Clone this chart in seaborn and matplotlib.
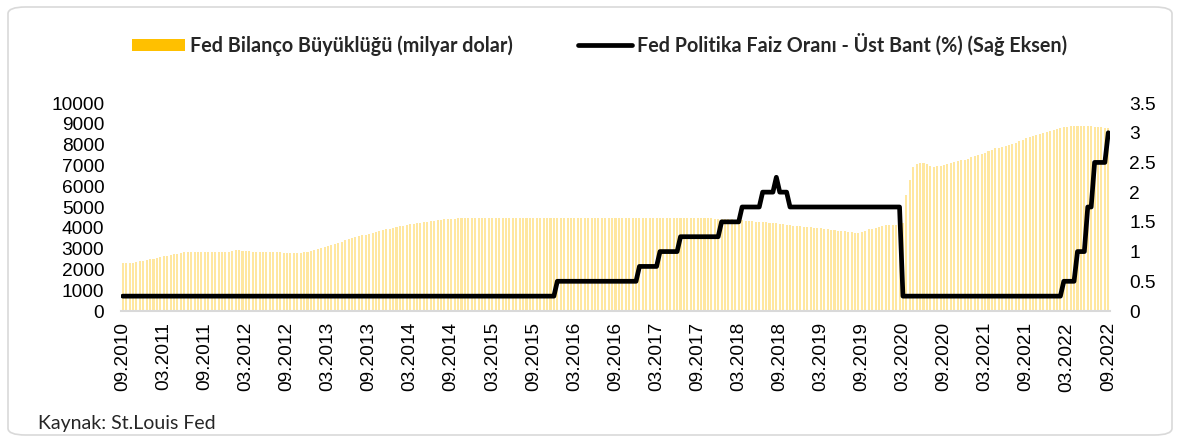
import numpy as np
import pandas as pd
import matplotlib
matplotlib.use("Agg")
import matplotlib.pyplot as plt
from matplotlib.patches import FancyBboxPatch, Patch
from matplotlib.lines import Line2D
import seaborn as sns

# Fed balance sheet, billion USD, two readings per month, 09.2010 .. 09.2022
bal_2010 = [2300, 2300, 2300, 2310, 2340, 2380, 2420, 2450]
bal_2011 = [2480, 2510, 2550, 2590, 2630, 2660, 2700, 2730, 2760, 2790, 2820, 2840,
            2850, 2860, 2860, 2860, 2860, 2850, 2850, 2850, 2850, 2840, 2840, 2860]
bal_2012 = [2900, 2920, 2910, 2900, 2880, 2870, 2860, 2860, 2850, 2850, 2850, 2840,
            2830, 2830, 2820, 2810, 2800, 2800, 2790, 2790, 2810, 2830, 2850, 2880]
bal_2013 = [2940, 2990, 3040, 3090, 3140, 3190, 3240, 3290, 3340, 3390, 3440, 3500,
            3550, 3590, 3630, 3670, 3710, 3750, 3800, 3840, 3880, 3920, 3960, 4000]
bal_2014 = [4040, 4070, 4100, 4130, 4160, 4190, 4220, 4250, 4270, 4300, 4320, 4340,
            4370, 4390, 4410, 4420, 4430, 4440, 4450, 4460, 4470, 4480, 4480, 4490]
bal_2015 = [4490, 4490, 4480, 4480, 4480, 4490, 4490, 4490, 4480, 4480, 4480, 4480,
            4480, 4490, 4490, 4480, 4480, 4480, 4480, 4480, 4480, 4480, 4480, 4490]
bal_2016 = [4490, 4490, 4490, 4480, 4480, 4480, 4480, 4480, 4480, 4480, 4470, 4470,
            4470, 4470, 4470, 4470, 4470, 4460, 4460, 4460, 4460, 4460, 4460, 4450]
bal_2017 = [4450, 4450, 4460, 4460, 4470, 4470, 4480, 4480, 4480, 4480, 4470, 4470,
            4470, 4470, 4460, 4460, 4460, 4460, 4460, 4450, 4450, 4440, 4440, 4430]
bal_2018 = [4420, 4410, 4400, 4390, 4380, 4370, 4350, 4330, 4320, 4300, 4290, 4270,
            4260, 4240, 4220, 4210, 4190, 4170, 4150, 4130, 4110, 4090, 4070, 4050]
bal_2019 = [4040, 4020, 4000, 3990, 3970, 3950, 3930, 3910, 3890, 3870, 3850, 3830,
            3810, 3790, 3770, 3760, 3780, 3860, 3920, 3960, 4000, 4040, 4100, 4140]
bal_2020 = [4150, 4150, 4150, 4160, 4250, 5600, 6300, 6900, 7050, 7130, 7130, 7050,
            6950, 6920, 6950, 6980, 7020, 7050, 7100, 7150, 7220, 7250, 7280, 7330]
bal_2021 = [7380, 7430, 7500, 7560, 7620, 7680, 7760, 7820, 7850, 7880, 7930, 7980,
            8030, 8080, 8150, 8220, 8300, 8360, 8400, 8440, 8490, 8540, 8590, 8630]
bal_2022 = [8700, 8760, 8810, 8840, 8870, 8880, 8900, 8900, 8900, 8890, 8890, 8880,
            8870, 8860, 8840, 8820, 8790]

# Fed policy rate upper bound (%), levels and number of half-month readings
rate_levels = [0.25, 0.5, 0.75, 1.0, 1.25, 1.5, 1.75, 2.0, 2.25, 2.0, 1.75,
               0.25, 0.5, 1.0, 1.75, 2.5, 3.0]
rate_counts = [127, 24, 6, 6, 12, 6, 6, 4, 1, 3, 33, 47, 4, 3, 2, 4, 1]

tick_labels = ["09.2010", "03.2011", "09.2011", "03.2012", "09.2012", "03.2013",
               "09.2013", "03.2014", "09.2014", "03.2015", "09.2015", "03.2016",
               "09.2016", "03.2017", "09.2017", "03.2018", "09.2018", "03.2019",
               "09.2019", "03.2020", "09.2020", "03.2021", "09.2021", "03.2022",
               "09.2022"]

balance = (bal_2010 + bal_2011 + bal_2012 + bal_2013 + bal_2014 + bal_2015 + bal_2016
           + bal_2017 + bal_2018 + bal_2019 + bal_2020 + bal_2021 + bal_2022)
rate = np.repeat(rate_levels, rate_counts)
df = pd.DataFrame({"t": np.arange(len(balance)), "balance": balance, "rate": rate})

sns.set_style("white")
plt.rcParams["font.family"] = ["Liberation Sans", "DejaVu Sans"]

fig = plt.figure(figsize=(11.8, 4.43), dpi=100)
ax = fig.add_axes([121 / 1180, 1 - 311 / 443, (1110 - 121) / 1180, (311 - 103) / 443])
ax2 = ax.twinx()

sns.barplot(data=df, x="t", y="balance", native_scale=True, color="#FFE7A0",
            saturation=1, width=0.6, linewidth=0, errorbar=None, ax=ax)
sns.lineplot(data=df, x="t", y="rate", color="black", linewidth=3.4, ax=ax2,
             solid_joinstyle="round", solid_capstyle="round")

ax.set_xlim(-0.5, len(balance) - 0.5)
ax.set_ylim(0, 10000)
ax2.set_ylim(0, 3.5)
ax.set_yticks(np.arange(0, 10001, 1000))
ax2.set_yticks(np.arange(0, 3.51, 0.5))
ax2.set_yticklabels(["0", "0.5", "1", "1.5", "2", "2.5", "3", "3.5"])
ax.set_xticks(np.arange(0, len(balance), 12))
ax.set_xticklabels(tick_labels, rotation=90)
ax.set_xlabel("")
ax.set_ylabel("")
ax2.set_ylabel("")

for a in (ax, ax2):
    for s in a.spines.values():
        s.set_visible(False)
    a.tick_params(length=0, labelsize=13.8, colors="#000000")
ax.spines["bottom"].set_visible(True)
ax.spines["bottom"].set_color("#d9d9d9")
ax.spines["bottom"].set_linewidth(1.5)
ax.tick_params(axis="y", pad=12)
ax.tick_params(axis="x", pad=8)
ax2.tick_params(axis="y", pad=14)

handles = [Patch(facecolor="#FFC000", edgecolor="none"),
           Line2D([0], [0], color="black", linewidth=3.4)]
labels = ["Fed Bilanço Büyüklüğü (milyar dolar)",
          "Fed Politika Faiz Oranı - Üst Bant (%) (Sağ Eksen)"]
fig.legend(handles, labels, loc="center", bbox_to_anchor=(0.508, 0.90), ncol=2,
           frameon=False, handlelength=2.7, handleheight=0.6, handletextpad=0.25,
           columnspacing=3.3, prop={"family": ["Lato", "DejaVu Sans"],
                                    "weight": "bold", "size": 14.2})

fig.text(38 / 1180, 1 - 424 / 443, "Kaynak: St.Louis Fed", ha="left", va="center",
         fontsize=14, family=["Lato", "DejaVu Sans"])

fig.patches.append(FancyBboxPatch((8 / 1180, 8 / 443), 1164 / 1180, 428 / 443,
                                  boxstyle="round,pad=0,rounding_size=0.015",
                                  transform=fig.transFigure, facecolor="none",
                                  edgecolor="#d9d9d9", linewidth=1.2))

fig.savefig("out.png", dpi=100)
